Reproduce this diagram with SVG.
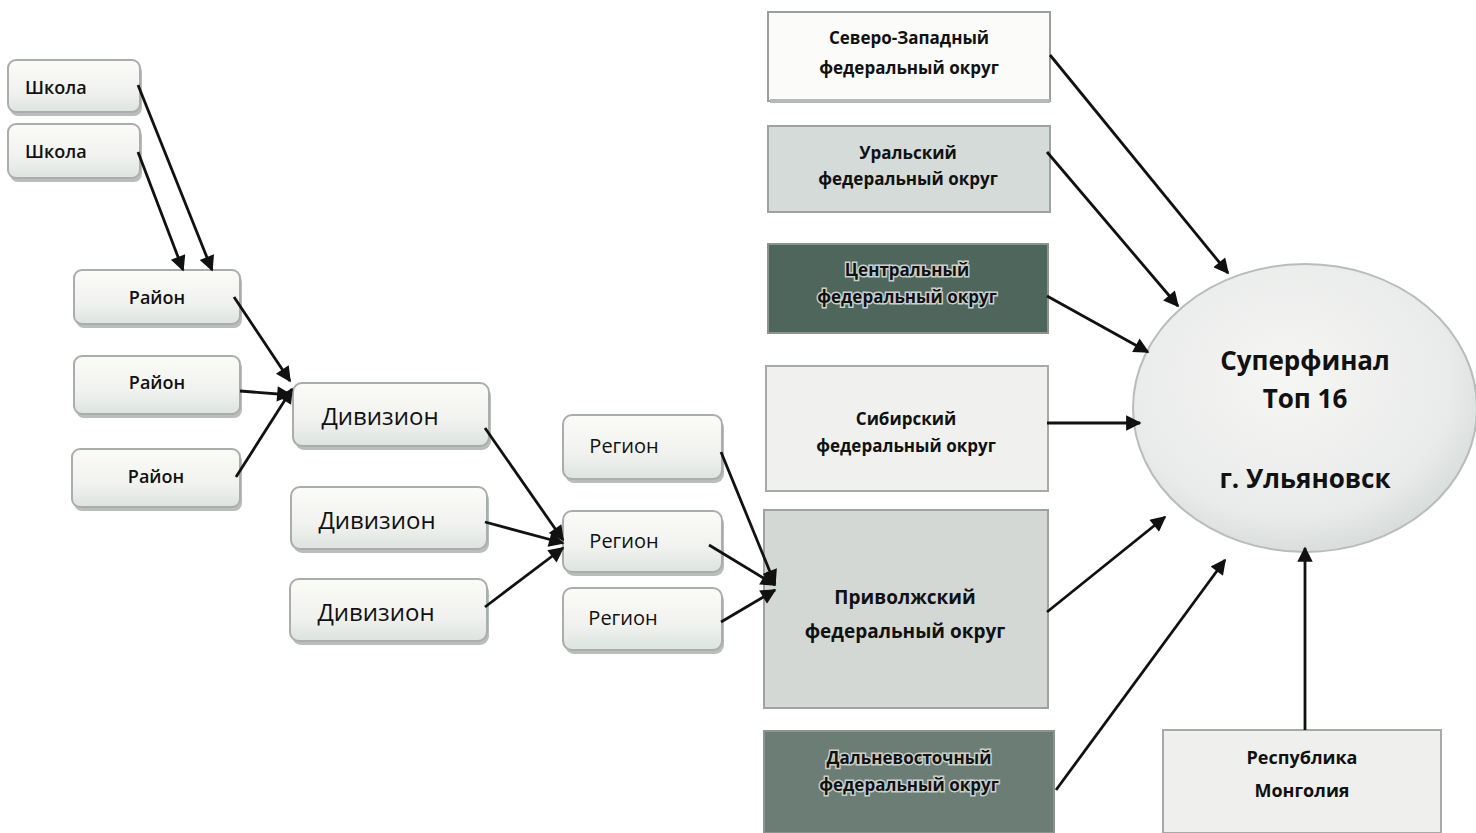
<svg xmlns="http://www.w3.org/2000/svg" width="1476" height="833" viewBox="0 0 1476 833">
<style>
.rb{fill:url(#gRound);stroke:#a9adab;stroke-width:2}
.sh{fill:#b9bdbb}
.t{font-family:"Open Sans","Noto Sans","Liberation Sans",sans-serif;fill:#111}
.b{font-weight:bold}
.m{font-weight:600}
.c{text-anchor:middle}
.con line{stroke:#111;stroke-width:2.8;marker-end:url(#ah)}
.halo{stroke:#c9d0cc;stroke-width:3;paint-order:stroke}
</style>
<defs>
<linearGradient id="gRound" x1="0" y1="0" x2="0" y2="1">
<stop offset="0" stop-color="#fbfbf8"/>
<stop offset="0.6" stop-color="#f1f2ef"/>
<stop offset="1" stop-color="#dde3e0"/>
</linearGradient>
<radialGradient id="gCirc" cx="0.45" cy="0.4" r="0.6">
<stop offset="0" stop-color="#f6f6f4"/>
<stop offset="0.8" stop-color="#e9ebea"/>
<stop offset="1" stop-color="#d9dddb"/>
</radialGradient>
<marker id="ah" viewBox="0 0 10 10" refX="9" refY="5" markerWidth="7" markerHeight="5.5" orient="auto" markerUnits="strokeWidth">
<path d="M0,0 L10,5 L0,10 z" fill="#111"/>
</marker>
</defs>
<rect width="1476" height="833" fill="#ffffff"/>

<g id="shkola1"><rect class="sh" x="10" y="64" width="132" height="52" rx="8"/><rect class="rb" x="8" y="60" width="132" height="52" rx="8"/><text class="t m" x="25" y="94" font-size="18">Школа</text></g>
<g id="shkola2"><rect class="sh" x="10" y="128" width="132" height="54" rx="8"/><rect class="rb" x="8" y="124" width="132" height="54" rx="8"/><text class="t m" x="25" y="158" font-size="18">Школа</text></g>

<g id="rayon1"><rect class="sh" x="76" y="274" width="166" height="54" rx="8"/><rect class="rb" x="74" y="270" width="166" height="54" rx="8"/><text class="t m c" x="157" y="304" font-size="18">Район</text></g>
<g id="rayon2"><rect class="sh" x="76" y="360" width="166" height="58" rx="8"/><rect class="rb" x="74" y="356" width="166" height="58" rx="8"/><text class="t m c" x="157" y="389" font-size="18">Район</text></g>
<g id="rayon3"><rect class="sh" x="74" y="453" width="168" height="58" rx="8"/><rect class="rb" x="72" y="449" width="168" height="58" rx="8"/><text class="t m c" x="156" y="483" font-size="18">Район</text></g>

<g id="div1"><rect class="sh" x="295" y="387" width="196" height="63" rx="9"/><rect class="rb" x="293" y="383" width="196" height="63" rx="9"/><text class="t c" x="380" y="425" font-size="24">Дивизион</text></g>
<g id="div2"><rect class="sh" x="293" y="491" width="196" height="62" rx="9"/><rect class="rb" x="291" y="487" width="196" height="62" rx="9"/><text class="t c" x="377" y="529" font-size="24">Дивизион</text></g>
<g id="div3"><rect class="sh" x="292" y="583" width="197" height="62" rx="9"/><rect class="rb" x="290" y="579" width="197" height="62" rx="9"/><text class="t c" x="376" y="621" font-size="24">Дивизион</text></g>

<g id="reg1"><rect class="sh" x="565" y="419" width="159" height="64" rx="9"/><rect class="rb" x="563" y="415" width="159" height="64" rx="9"/><text class="t c" x="624" y="453" font-size="20">Регион</text></g>
<g id="reg2"><rect class="sh" x="565" y="515" width="159" height="61" rx="9"/><rect class="rb" x="563" y="511" width="159" height="61" rx="9"/><text class="t c" x="624" y="548" font-size="20">Регион</text></g>
<g id="reg3"><rect class="sh" x="565" y="592" width="159" height="62" rx="9"/><rect class="rb" x="563" y="588" width="159" height="62" rx="9"/><text class="t c" x="623" y="625" font-size="20">Регион</text></g>

<g id="szfo"><rect x="768" y="12" width="282" height="89" fill="#fbfbfa" stroke="#9a9e9c" stroke-width="2"/><rect x="770" y="99" width="280" height="4" fill="#b5b9b7"/><text class="t b c" font-size="17"><tspan x="909" y="44">Северо-Западный</tspan><tspan x="909" y="74">федеральный округ</tspan></text></g>
<g id="ural"><rect x="768" y="126" width="282" height="86" fill="#d5dbd8" stroke="#9ea3a1" stroke-width="2"/><text class="t b c" font-size="17"><tspan x="908" y="159">Уральский</tspan><tspan x="908" y="185">федеральный округ</tspan></text></g>
<g id="centr"><rect x="768" y="244" width="280" height="89" fill="#4e665c" stroke="#8d9490" stroke-width="2"/><text class="t b c halo" font-size="17" fill="#1b2420"><tspan x="907" y="276">Центральный</tspan><tspan x="907" y="303">федеральный округ</tspan></text></g>
<g id="sib"><rect x="766" y="366" width="282" height="125" fill="#f0f1ef" stroke="#a6aaa8" stroke-width="2"/><text class="t b c" font-size="17"><tspan x="906" y="425">Сибирский</tspan><tspan x="906" y="452">федеральный округ</tspan></text></g>
<g id="privol"><rect x="764" y="510" width="284" height="198" fill="#d3d8d5" stroke="#9ea3a1" stroke-width="2"/><text class="t b c" font-size="19"><tspan x="905" y="604">Приволжский</tspan><tspan x="905" y="638">федеральный округ</tspan></text></g>
<g id="dalvost"><rect x="764" y="731" width="290" height="102" fill="#6b7d75" stroke="#8d9490" stroke-width="2"/><text class="t b c halo" font-size="17" fill="#1b2420"><tspan x="909" y="764">Дальневосточный</tspan><tspan x="909" y="791">федеральный округ</tspan></text></g>
<g id="mongol"><rect x="1163" y="730" width="278" height="103" fill="#eff0ee" stroke="#a6aaa8" stroke-width="2"/><text class="t b c" font-size="18"><tspan x="1302" y="764">Республика</tspan><tspan x="1302" y="797">Монголия</tspan></text></g>

<g id="superfinal"><ellipse cx="1305" cy="408" rx="172" ry="144" fill="url(#gCirc)" stroke="#b8bcba" stroke-width="2"/><text class="t b c" font-size="26"><tspan x="1305" y="370">Суперфинал</tspan><tspan x="1305" y="408">Топ 16</tspan><tspan x="1305" y="488">г. Ульяновск</tspan></text></g>

<g class="con" id="connectors">
<line x1="138" y1="85" x2="212" y2="270"/>
<line x1="138" y1="152" x2="183" y2="270"/>
<line x1="234" y1="297" x2="290" y2="381"/>
<line x1="240" y1="391" x2="291" y2="395"/>
<line x1="236" y1="477" x2="292" y2="389"/>
<line x1="485" y1="428" x2="563" y2="540"/>
<line x1="485" y1="522" x2="563" y2="543"/>
<line x1="485" y1="607" x2="563" y2="548"/>
<line x1="721" y1="452" x2="775" y2="584"/>
<line x1="709" y1="545" x2="775" y2="585"/>
<line x1="721" y1="622" x2="775" y2="590"/>
<line x1="1050" y1="55" x2="1228" y2="273"/>
<line x1="1047" y1="152" x2="1178" y2="306"/>
<line x1="1047" y1="296" x2="1148" y2="352"/>
<line x1="1047" y1="423" x2="1140" y2="423"/>
<line x1="1047" y1="612" x2="1165" y2="517"/>
<line x1="1056" y1="790" x2="1225" y2="560"/>
<line x1="1305" y1="730" x2="1305" y2="548"/>
</g>
</svg>
